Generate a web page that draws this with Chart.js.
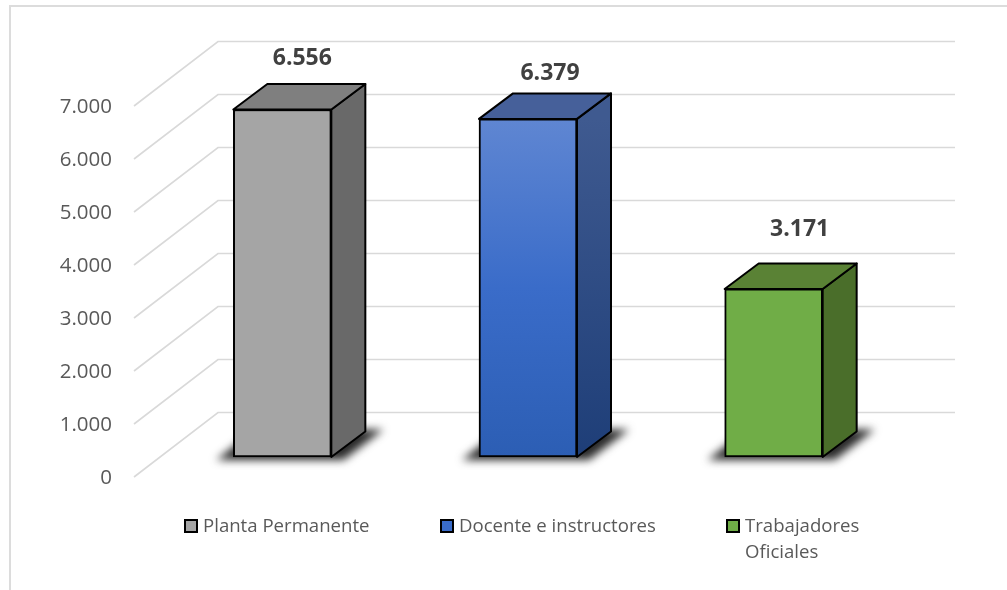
<!DOCTYPE html>
<html>
<head>
<meta charset="utf-8">
<style>
  html, body { margin: 0; padding: 0; background: #fff; }
  canvas { display: block; }
</style>
</head>
<body>
<canvas id="chart" width="1007" height="590"></canvas>
<script src="https://cdn.jsdelivr.net/npm/chart.js@4"></script>
<script>
// Data
const categories = ['Planta Permanente', 'Docente e instructores', 'Trabajadores Oficiales'];
const legendLines = [['Planta Permanente'], ['Docente e instructores'], ['Trabajadores', 'Oficiales']];
const values = [6556, 6379, 3171];
const tickLabels = ['0', '1.000', '2.000', '3.000', '4.000', '5.000', '6.000', '7.000'];

// Colours per bar: front flat, side, top
const frontColors = ['#a5a5a5', '#3a6cc9', '#70ad47'];
const sideColors = ['#696969', '#2b4a85', '#4a6e2a'];
const topColors = ['#7f7f7f', '#46609a', '#5a8235'];

// Blue bar has a gradient on the front, the other two are flat
const blueStops = ['#5f86d2', '#3a6cc9', '#2c5eb4'];

const FONT = '"Open Sans", sans-serif';

// Depth of the box the chart sits in, and of each bar
const wallDx = 84, wallDy = -64.5;
const barShiftX = 25.5, barShiftY = -20;
const barDx = 34, barDy = -25.5;

// Hand placed data labels: offset from the bar's front top centre
const labelShift = [[20, -51], [22, -45], [26, -59]];

// Legend places
const legendBoxX = [185, 441, 727];
const legendY = 526, legendLineGap = 26;

function formatValue(v) {
    return String(v).replace(/\B(?=(\d{3})+$)/g, '.');
}

function polygon(ctx, pts, fill) {
    ctx.beginPath();
    pts.forEach((p, i) => i ? ctx.lineTo(p[0], p[1]) : ctx.moveTo(p[0], p[1]));
    ctx.closePath();
    ctx.fillStyle = fill;
    ctx.fill();
    ctx.stroke();
}

const wallPlugin = {
    id: 'wall',
    beforeDatasetsDraw(chart) {
        const { ctx, chartArea, scales } = chart;
        const y = scales.y;
        ctx.save();
        // frame of the picture
        ctx.strokeStyle = '#dcdcdc';
        ctx.lineWidth = 2;
        ctx.beginPath();
        ctx.moveTo(10, 590);
        ctx.lineTo(10, 6);
        ctx.lineTo(1007, 6);
        ctx.stroke();
        // grid lines: slanted floor part, then the back wall
        ctx.strokeStyle = '#d9d9d9';
        ctx.lineWidth = 1.6;
        y.ticks.forEach((t, i) => {
            const py = y.getPixelForTick(i);
            ctx.beginPath();
            ctx.moveTo(chartArea.left, py);
            ctx.lineTo(chartArea.left + wallDx, py + wallDy);
            ctx.lineTo(chartArea.right + wallDx, py + wallDy);
            ctx.stroke();
        });
        ctx.restore();

        // bars live on a plane in front of the wall
        ctx.save();
        ctx.translate(barShiftX, barShiftY);
    },
    beforeDatasetDraw(chart) {
        const ctx = chart.ctx;
        const bars = chart.getDatasetMeta(0).data;
        bars.forEach((bar, i) => {
            const left = bar.x - bar.width / 2, right = bar.x + bar.width / 2;
            // soft shadow on the floor
            ctx.save();
            ctx.filter = 'blur(4px)';
            ctx.fillStyle = '#2a2a2a';
            ctx.beginPath();
            ctx.moveTo(left - 17, bar.base + 3);
            ctx.lineTo(right + 12, bar.base + 3);
            ctx.lineTo(right + 52, bar.base + barDy - 2);
            ctx.lineTo(left + 22, bar.base + barDy - 2);
            ctx.closePath();
            ctx.fill();
            ctx.restore();

            // side and top faces
            ctx.save();
            ctx.strokeStyle = '#000';
            ctx.lineWidth = 2;
            ctx.lineJoin = 'round';
            const side = ctx.createLinearGradient(0, bar.y, 0, bar.base);
            side.addColorStop(0, i === 1 ? '#3f5a90' : sideColors[i]);
            side.addColorStop(1, i === 1 ? '#1e3e78' : sideColors[i]);
            polygon(ctx, [[right, bar.y], [right + barDx, bar.y + barDy], [right + barDx, bar.base + barDy], [right, bar.base]], side);
            polygon(ctx, [[left, bar.y], [left + barDx, bar.y + barDy], [right + barDx, bar.y + barDy], [right, bar.y]], topColors[i]);
            ctx.restore();
        });
    },
    afterDatasetsDraw(chart) {
        const ctx = chart.ctx;
        const bars = chart.getDatasetMeta(0).data;
        ctx.save();
        ctx.font = 'bold 23px ' + FONT;
        ctx.fillStyle = '#404040';
        ctx.textAlign = 'center';
        ctx.textBaseline = 'middle';
        bars.forEach((bar, i) => {
            ctx.fillText(formatValue(values[i]), bar.x + labelShift[i][0], bar.y + labelShift[i][1]);
        });
        ctx.restore();
        ctx.restore(); // the translate from beforeDatasetsDraw

        // legend
        ctx.save();
        ctx.font = '18.6px ' + FONT;
        ctx.textBaseline = 'middle';
        ctx.textAlign = 'left';
        legendLines.forEach((lines, i) => {
            ctx.fillStyle = frontColors[i];
            ctx.strokeStyle = '#000';
            ctx.lineWidth = 2;
            ctx.fillRect(legendBoxX[i], legendY - 6, 12, 12);
            ctx.strokeRect(legendBoxX[i], legendY - 6, 12, 12);
            ctx.fillStyle = '#595959';
            lines.forEach((line, j) => {
                ctx.fillText(line, legendBoxX[i] + 18, legendY + 1 + j * legendLineGap);
            });
        });
        ctx.restore();
    }
};

new Chart(document.getElementById('chart').getContext('2d'), {
    type: 'bar',
    data: {
        labels: categories,
        datasets: [{
            data: values,
            barThickness: 98,
            borderColor: '#000',
            borderWidth: 2,
            borderSkipped: false,
            clip: false,
            backgroundColor(c) {
                if (c.dataIndex !== 1 || !c.chart.chartArea) return frontColors[c.dataIndex];
                const y = c.chart.scales.y;
                const g = c.chart.ctx.createLinearGradient(0, y.getPixelForValue(values[1]), 0, y.getPixelForValue(0));
                blueStops.forEach((s, i) => g.addColorStop(i / (blueStops.length - 1), s));
                return g;
            }
        }]
    },
    options: {
        responsive: false,
        animation: false,
        layout: { padding: { top: 106, right: 136, bottom: 113, left: 0 } },
        plugins: {
            legend: { display: false },
            tooltip: { enabled: false }
        },
        scales: {
            x: { display: false },
            y: {
                min: 0,
                max: 7000,
                afterFit(scale) { scale.width = 134; },
                grid: { display: false, drawTicks: false },
                border: { display: false },
                ticks: {
                    stepSize: 1000,
                    padding: 22,
                    labelOffset: 1,
                    color: '#595959',
                    font: { family: FONT, size: 20.5 },
                    callback: (v, i) => tickLabels[i]
                }
            }
        }
    },
    plugins: [wallPlugin]
});
</script>
</body>
</html>
